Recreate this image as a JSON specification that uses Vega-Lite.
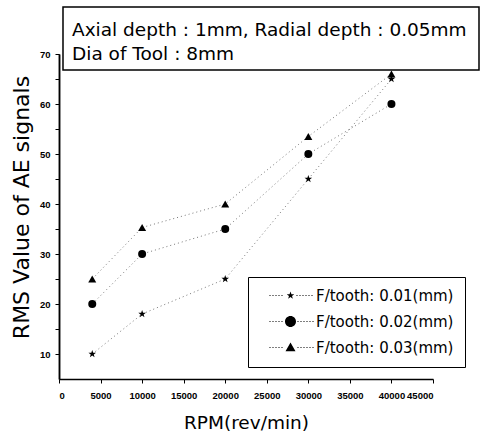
{
  "$schema": "https://vega.github.io/schema/vega-lite/v6.json",
  "width": 374,
  "height": 325,
  "autosize": {"type": "none"},
  "padding": {"left": 59, "top": 54, "right": 48, "bottom": 55},
  "background": "white",
  "config": {
    "view": {"stroke": null},
    "font": "DejaVu Sans",
    "axis": {"domainColor": "black", "tickColor": "black", "labelColor": "black", "titleColor": "black", "grid": false, "labelOverlap": false, "labelBound": false}
  },
  "data": {
    "values": [
      {"rpm": 4000, "rms": 10, "feed": "F/tooth: 0.01(mm)"},
      {"rpm": 10000, "rms": 18, "feed": "F/tooth: 0.01(mm)"},
      {"rpm": 20000, "rms": 25, "feed": "F/tooth: 0.01(mm)"},
      {"rpm": 30000, "rms": 45, "feed": "F/tooth: 0.01(mm)"},
      {"rpm": 40000, "rms": 65, "feed": "F/tooth: 0.01(mm)"},
      {"rpm": 4000, "rms": 20, "feed": "F/tooth: 0.02(mm)"},
      {"rpm": 10000, "rms": 30, "feed": "F/tooth: 0.02(mm)"},
      {"rpm": 20000, "rms": 35, "feed": "F/tooth: 0.02(mm)"},
      {"rpm": 30000, "rms": 50, "feed": "F/tooth: 0.02(mm)"},
      {"rpm": 40000, "rms": 60, "feed": "F/tooth: 0.02(mm)"},
      {"rpm": 4000, "rms": 25, "feed": "F/tooth: 0.03(mm)"},
      {"rpm": 10000, "rms": 35.3, "feed": "F/tooth: 0.03(mm)"},
      {"rpm": 20000, "rms": 40, "feed": "F/tooth: 0.03(mm)"},
      {"rpm": 30000, "rms": 53.5, "feed": "F/tooth: 0.03(mm)"},
      {"rpm": 40000, "rms": 66, "feed": "F/tooth: 0.03(mm)"}
    ]
  },
  "resolve": {"scale": {"shape": "independent"}, "legend": {"shape": "independent"}, "axis": {"y": "independent"}},
  "layer": [
    {
      "mark": {"type": "line", "color": "#777", "strokeWidth": 1, "strokeDash": [1, 3]},
      "encoding": {
        "x": {"field": "rpm", "type": "quantitative", "scale": {"domain": [0, 45000], "nice": false},
          "axis": {"title": "RPM(rev/min)", "values": [0,2500,5000,7500,10000,12500,15000,17500,20000,22500,25000,27500,30000,32500,35000,37500,40000,42500,45000],
            "labelExpr": "datum.value % 5000 == 0 ? format(datum.value, 'd') : ''", "labelFont": "Liberation Sans", "labelFontSize": 9.5, "labelFontWeight": "bold", "tickSize": 4, "labelPadding": 7,
            "titleFontSize": 18.5, "titleFontWeight": "normal", "titlePadding": 14, "domainWidth": 1.5}},
        "y": {"field": "rms", "type": "quantitative", "scale": {"domain": [5, 70], "nice": false, "zero": false},
          "axis": {"orient": "left", "title": "RMS Value of AE signals", "values": [10,20,30,40,50,60,70], "format": "d",
            "labelFont": "Liberation Sans", "labelFontSize": 9.5, "labelFontWeight": "bold", "tickSize": 4, "labelPadding": 5,
            "titleFontSize": 22, "titleFontWeight": "normal", "titlePadding": 6, "titleY": 153, "domainWidth": 1.5}},
        "detail": {"field": "feed"}
      }
    },
    {
      "mark": {"type": "point", "filled": true, "color": "black", "opacity": 1, "size": 64},
      "encoding": {
        "x": {"field": "rpm", "type": "quantitative"},
        "y": {"field": "rms", "type": "quantitative", "axis": {"orient": "left", "title": null, "values": [15,25,35,45,55,65], "labels": false, "domain": true, "domainWidth": 1.5, "tickSize": 4}},
        "shape": {"field": "feed", "type": "nominal",
          "scale": {"range": ["M0,-1L0.235,-0.324L0.951,-0.309L0.380,0.124L0.588,0.809L0,0.4L-0.588,0.809L-0.380,0.124L-0.951,-0.309L-0.235,-0.324Z", "circle", "triangle-up"]},
          "legend": null}
      }
    },
    {
      "mark": {"type": "point", "filled": true, "color": "black", "opacity": 0, "size": 100},
      "encoding": {
        "x": {"field": "rpm", "type": "quantitative"},
        "y": {"field": "rms", "type": "quantitative", "axis": null},
        "shape": {"field": "feed", "type": "nominal",
          "scale": {"range": [
            "M0,-0.8L0.188,-0.259L0.761,-0.247L0.304,0.099L0.470,0.647L0,0.32L-0.470,0.647L-0.304,0.099L-0.761,-0.247L-0.188,-0.259Z M-4.2,-0.1h0.2v0.2h-0.2Z M-3.6,-0.1h0.2v0.2h-0.2Z M-3.0,-0.1h0.2v0.2h-0.2Z M-2.4,-0.1h0.2v0.2h-0.2Z M-1.8,-0.1h0.2v0.2h-0.2Z M1.2,-0.1h0.2v0.2h-0.2Z M1.8,-0.1h0.2v0.2h-0.2Z M2.4,-0.1h0.2v0.2h-0.2Z M3.0,-0.1h0.2v0.2h-0.2Z M3.6,-0.1h0.2v0.2h-0.2Z M4.2,-0.1h0.2v0.2h-0.2Z",
            "M-1.1,0A1.1,1.1,0,1,0,1.1,0A1.1,1.1,0,1,0,-1.1,0Z M-4.2,-0.1h0.2v0.2h-0.2Z M-3.6,-0.1h0.2v0.2h-0.2Z M-3.0,-0.1h0.2v0.2h-0.2Z M-2.4,-0.1h0.2v0.2h-0.2Z M-1.8,-0.1h0.2v0.2h-0.2Z M1.4,-0.1h0.2v0.2h-0.2Z M2.0,-0.1h0.2v0.2h-0.2Z M2.6,-0.1h0.2v0.2h-0.2Z M3.2,-0.1h0.2v0.2h-0.2Z M3.8,-0.1h0.2v0.2h-0.2Z M4.4,-0.1h0.2v0.2h-0.2Z",
            "M0,-1L1,0.75L-1,0.75Z M-4.2,-0.1h0.2v0.2h-0.2Z M-3.6,-0.1h0.2v0.2h-0.2Z M-3.0,-0.1h0.2v0.2h-0.2Z M-2.4,-0.1h0.2v0.2h-0.2Z M-1.8,-0.1h0.2v0.2h-0.2Z M1.4,-0.1h0.2v0.2h-0.2Z M2.0,-0.1h0.2v0.2h-0.2Z M2.6,-0.1h0.2v0.2h-0.2Z M3.2,-0.1h0.2v0.2h-0.2Z M3.8,-0.1h0.2v0.2h-0.2Z M4.4,-0.1h0.2v0.2h-0.2Z"
          ]},
          "legend": {"title": null, "orient": "none", "legendX": 189, "legendY": 223, "strokeColor": "black", "fillColor": "white", "padding": 11,
            "labelFontSize": 15, "labelFont": "DejaVu Sans", "labelOffset": 18, "symbolSize": 100, "symbolFillColor": "black", "symbolStrokeColor": "black", "symbolStrokeWidth": 0, "symbolOpacity": 1, "symbolOffset": 24, "rowPadding": 10, "labelLimit": 300}}
      }
    },
    {
      "data": {"values": [{"box": 1}]},
      "mark": {"type": "rect", "fill": "white", "stroke": "black", "strokeWidth": 1.5},
      "encoding": {
        "x": {"datum": 481}, "x2": {"datum": 50535},
        "y": {"datum": 79.4, "axis": null}, "y2": {"datum": 66.8}
      }
    },
    {
      "data": {"values": [{"box": 1}]},
      "mark": {"type": "text", "align": "left", "baseline": "alphabetic", "fontSize": 18.5, "font": "DejaVu Sans"},
      "encoding": {"x": {"datum": 1564}, "y": {"datum": 73.6, "axis": null}, "text": {"value": "Axial depth : 1mm, Radial depth : 0.05mm"}}
    },
    {
      "data": {"values": [{"box": 1}]},
      "mark": {"type": "text", "align": "left", "baseline": "alphabetic", "fontSize": 18.5, "font": "DejaVu Sans"},
      "encoding": {"x": {"datum": 1564}, "y": {"datum": 68.8, "axis": null}, "text": {"value": "Dia of Tool : 8mm"}}
    }
  ]
}
